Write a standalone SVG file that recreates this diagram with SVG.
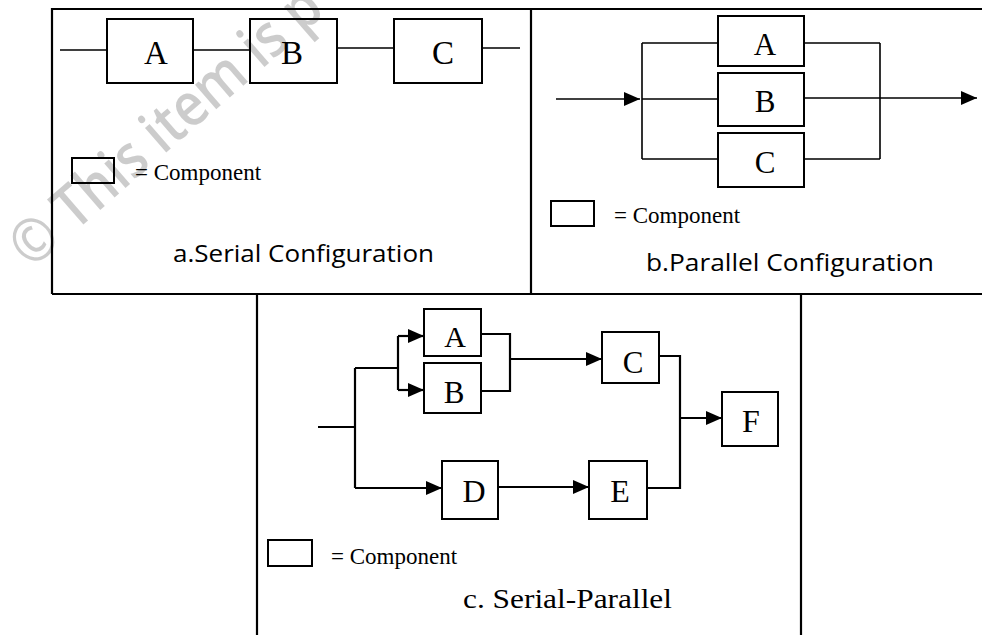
<svg xmlns="http://www.w3.org/2000/svg" width="982" height="635" viewBox="0 0 982 635">
<style>
.frame{fill:none;stroke:#000;stroke-width:2.2}
.box{fill:#fff;stroke:#000;stroke-width:2}
.lbl{font-family:"Liberation Serif","Times New Roman",serif;fill:#000;text-anchor:middle}
.legend{font-family:"Liberation Serif","Times New Roman",serif;font-size:23px;fill:#000}
.title{font-family:"Open Sans","Liberation Sans",sans-serif;font-size:23px;fill:#000}
.ln{fill:none;stroke:#000;stroke-width:1.6}
.lnc{fill:none;stroke:#000;stroke-width:2.2}
.wm{font-family:"Open Sans","Liberation Sans",sans-serif;font-size:60px;font-weight:600;fill:#000;fill-opacity:0.2}
</style>
<defs>
<marker id="ah" viewBox="0 0 16 14" refX="16" refY="7" markerWidth="16" markerHeight="14" markerUnits="userSpaceOnUse" orient="auto">
<path d="M0,0 L16,7 L0,14 z" fill="#000"/>
</marker>
</defs>
<rect width="982" height="635" fill="#fff"/>

<g id="frames">
<path class="frame" d="M52,294 V9 H982 M531,9 V294 M52,294 H982 M257,294 V635 M801,294 V635"/>
</g>

<g id="connectors">
<path class="ln" d="M60,50 H107 M193,50 H250 M337,48 H394 M482,48 H520"/>
<path class="ln" d="M642,43 V159 M642,43 H718 M642,99 H718 M642,159 H718 M804,43 H880 M804,159 H880 M880,43 V159"/>
<path class="ln" d="M556,99 H640" marker-end="url(#ah)"/>
<path class="ln" d="M804,98 H977" marker-end="url(#ah)"/>
<path class="lnc" d="M318,427 H355 M355,368 V488 M355,368 H398 M398,336 V390 M481,334 H510 V391 H481 M659,356 H680 V488 H647"/>
<path class="lnc" d="M398,336 H424" marker-end="url(#ah)"/>
<path class="lnc" d="M398,390 H424" marker-end="url(#ah)"/>
<path class="lnc" d="M355,488 H442" marker-end="url(#ah)"/>
<path class="lnc" d="M510,359 H602" marker-end="url(#ah)"/>
<path class="lnc" d="M498,487 H589" marker-end="url(#ah)"/>
<path class="lnc" d="M680,418 H722" marker-end="url(#ah)"/>
</g>

<g id="serial">
<g id="a-A"><rect class="box" x="107" y="19" width="86" height="64"/><text class="lbl" x="156" y="64" font-size="33">A</text></g>
<g id="a-B"><rect class="box" x="250" y="19" width="87" height="64"/><text class="lbl" x="292" y="64" font-size="33">B</text></g>
<g id="a-C"><rect class="box" x="394" y="19" width="88" height="64"/><text class="lbl" x="443" y="64" font-size="33">C</text></g>
<g id="a-legend"><rect class="box" x="72" y="158" width="42" height="25" stroke-width="1.6"/><text class="legend" x="135" y="180">= Component</text></g>
<text class="title" x="173" y="262" textLength="261" lengthAdjust="spacingAndGlyphs">a.Serial Configuration</text>
</g>

<g id="parallel">
<g id="b-A"><rect class="box" x="718" y="16" width="86" height="50"/><text class="lbl" x="765" y="55" font-size="31">A</text></g>
<g id="b-B"><rect class="box" x="718" y="73" width="86" height="53"/><text class="lbl" x="765" y="112" font-size="31">B</text></g>
<g id="b-C"><rect class="box" x="718" y="133" width="86" height="54"/><text class="lbl" x="765" y="173" font-size="31">C</text></g>
<g id="b-legend"><rect class="box" x="551" y="201" width="43" height="25" stroke-width="1.6"/><text class="legend" x="614" y="223">= Component</text></g>
<text class="title" x="646" y="271" textLength="288" lengthAdjust="spacingAndGlyphs">b.Parallel Configuration</text>
</g>

<g id="serialparallel">
<g id="c-A"><rect class="box" x="424" y="309" width="57" height="47"/><text class="lbl" x="455" y="347" font-size="30">A</text></g>
<g id="c-B"><rect class="box" x="424" y="363" width="57" height="50"/><text class="lbl" x="454" y="403" font-size="31">B</text></g>
<g id="c-C"><rect class="box" x="602" y="332" width="57" height="51"/><text class="lbl" x="633" y="373" font-size="31">C</text></g>
<g id="c-D"><rect class="box" x="442" y="461" width="56" height="58"/><text class="lbl" x="474" y="502" font-size="32">D</text></g>
<g id="c-E"><rect class="box" x="589" y="461" width="58" height="58"/><text class="lbl" x="620" y="502" font-size="32">E</text></g>
<g id="c-F"><rect class="box" x="722" y="392" width="56" height="54"/><text class="lbl" x="751" y="432" font-size="32">F</text></g>
<g id="c-legend"><rect class="box" x="268" y="540" width="44" height="26" stroke-width="1.6"/><text class="legend" x="331" y="564">= Component</text></g>
<text class="lbl" x="463" y="608" font-size="27" style="text-anchor:start" textLength="209" lengthAdjust="spacingAndGlyphs">c. Serial-Parallel</text>
</g>

<text class="wm" transform="translate(31,270) rotate(-41)" textLength="392" lengthAdjust="spacingAndGlyphs">© This item is p</text>
</svg>
